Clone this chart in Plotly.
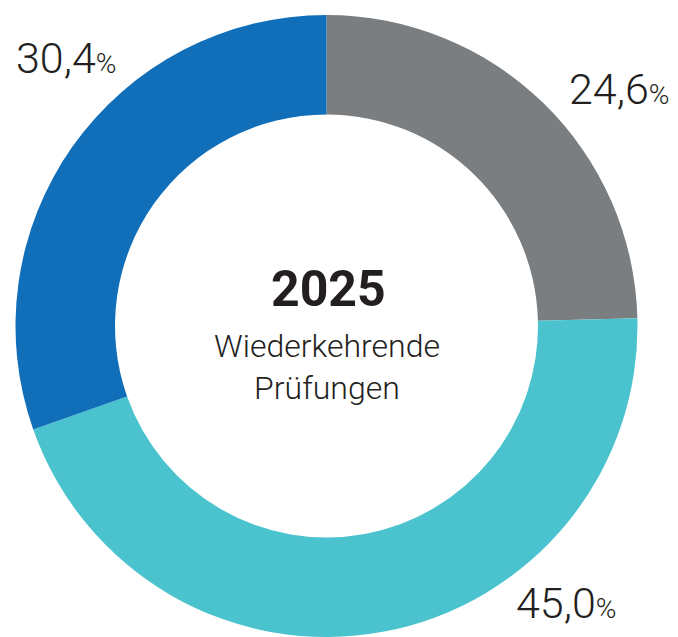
import plotly.graph_objects as go

# slice values, clockwise from 12 o'clock
labels = ["Kategorie A", "Kategorie B", "Kategorie C"]
values = [24.6, 45.0, 30.4]
colors = ["#7a7e80", "#4ac3cf", "#116fba"]
value_text = ["24,6", "45,0", "30,4"]

# the page adds an 8px body margin, so the figure is a bit smaller than the window
OFF = 8
W, H = 678 - OFF, 637 - OFF
cx, cy, r = 326.5 - OFF, 326 - OFF, 311


def fx(px):
    return (px - OFF) / W


def fy(py):
    return 1 - (py - OFF) / H


fig = go.Figure()
fig.add_trace(
    go.Pie(
        labels=labels,
        values=values,
        sort=False,
        direction="clockwise",
        rotation=0,
        hole=0.68,
        marker=dict(colors=colors, line=dict(width=0)),
        textinfo="none",
        hoverinfo="label+percent",
        domain=dict(x=[(cx - r) / W, (cx + r) / W], y=[(H - cy - r) / H, (H - cy + r) / H]),
    )
)

font_main = "Roboto"
txt_color = "#231f20"


def pct(v):
    return v + "<span style='font-size:28px'>%</span>"


# percent labels: left edge and visual centre in page pixels
label_pos = [(567, 89), (514, 603), (14, 58)]
for (px, py), t in zip(label_pos, value_text):
    fig.add_annotation(
        x=fx(px), y=fy(py), xref="paper", yref="paper",
        text=pct(t), showarrow=False, xanchor="left", yanchor="middle",
        font=dict(family=font_main, size=43, color=txt_color, weight=300),
    )

fig.add_annotation(
    x=fx(328), y=fy(289), xref="paper", yref="paper",
    text="<b>2025</b>", showarrow=False, xanchor="center", yanchor="middle",
    font=dict(family=font_main, size=50, color=txt_color),
)
fig.add_annotation(
    x=fx(327), y=fy(367), xref="paper", yref="paper",
    text="Wiederkehrende<br>Prüfungen", showarrow=False, xanchor="center", yanchor="middle",
    font=dict(family=font_main, size=32, color=txt_color, weight=300),
)

fig.update_layout(
    width=W, height=H,
    margin=dict(l=0, r=0, t=0, b=0),
    showlegend=False,
    paper_bgcolor="white",
    plot_bgcolor="white",
)

fig.write_html("out.html")
